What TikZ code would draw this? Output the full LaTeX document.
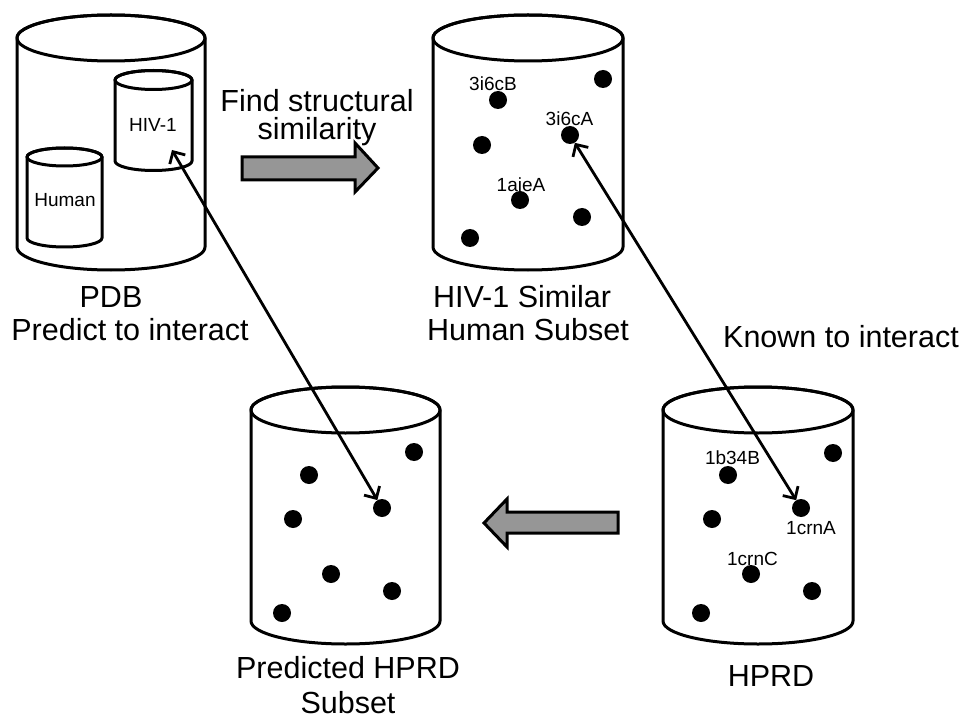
\documentclass[tikz,border=0pt]{standalone}
\usepackage{fontspec}
\setmainfont{Liberation Sans}
\usetikzlibrary{arrows.meta}
\definecolor{arrowgray}{RGB}{150,150,150}
\tikzset{
  cylline/.style={line width=3pt, line join=round},
  dotnode/.style={circle, fill=black, inner sep=0pt, minimum size=18pt},
  smalllabel/.style={font=\fontsize{19}{22}\selectfont, inner sep=0pt},
  biglabel/.style={font=\fontsize{30.5}{35}\selectfont, inner sep=0pt, anchor=base},
  blockarrow/.style={line width=3pt, fill=arrowgray, line join=miter},
  link/.style={line width=2.8pt, {Straight Barb[length=9pt,width=18pt]}-{Straight Barb[length=9pt,width=18pt]}},
}
% cx, ytop, ybot, rx, ry
\newcommand{\drum}[5]{%
  \filldraw[cylline, fill=white] ({#1-#4},#2) -- ({#1-#4},#3)
    arc[start angle=180, end angle=0, x radius=#4, y radius=#5]
    -- ({#1+#4},#2)
    arc[start angle=0, end angle=-180, x radius=#4, y radius=#5] -- cycle;
  \draw[cylline] (#1,#2) ellipse[x radius=#4, y radius=#5];
}
\begin{document}
\begin{tikzpicture}[x=1pt, y=-1pt]
\useasboundingbox (0,0) rectangle (968,719);

% ---------- PDB ----------
\drum{111}{38}{247}{94}{23}
\drum{153.5}{80}{161}{38.5}{9.5}
\drum{64.5}{157}{238}{37.5}{9}
\node[smalllabel] (hivlbl) at (153,125) {HIV-1};
\node[smalllabel] (humanlbl) at (65,200) {Human};
\coordinate (hivpt) at (172,150);
\node[biglabel] (pdb) at (111,307) {PDB};
\node[biglabel] (pdbsub) at (130,340) {Predict to interact};

% ---------- Find structural similarity ----------
\node[biglabel] (find1) at (317,112) {Find structural};
\node[biglabel] (find2) at (317,140) {similarity};
\draw[blockarrow] (242,157) -- (355,157) -- (355,143) -- (378,168)
  -- (355,192) -- (355,180) -- (242,180) -- cycle;

% ---------- HIV-1 similar human subset ----------
\drum{528}{38}{247}{95}{23}
\node[dotnode] (t1) at (603,79) {};
\node[dotnode] (t3i6cB) at (498,100) {};
\node[dotnode] (t3i6cA) at (570,135) {};
\node[dotnode] (t4) at (482,145) {};
\node[dotnode] (t1aieA) at (520,200) {};
\node[dotnode] (t6) at (582,217) {};
\node[dotnode] (t7) at (470,238) {};
\node[smalllabel] (l3i6cB) at (493,84) {3i6cB};
\node[smalllabel] (l3i6cA) at (569.5,119) {3i6cA};
\node[smalllabel] (l1aieA) at (521,184.5) {1aieA};
\node[biglabel] (sim1) at (522,307) {HIV-1 Similar};
\node[biglabel] (sim2) at (528,340) {Human Subset};

\node[biglabel] (known) at (841,347) {Known to interact};

% ---------- Predicted HPRD subset ----------
\drum{345.5}{410}{621}{94.5}{23}
\node[dotnode] (p1) at (414,452) {};
\node[dotnode] (p2) at (309,475) {};
\node[dotnode] (ptarget) at (382,508) {};
\node[dotnode] (p4) at (293,519) {};
\node[dotnode] (p5) at (331,574) {};
\node[dotnode] (p6) at (392,591) {};
\node[dotnode] (p7) at (282,613) {};
\node[biglabel] (pred1) at (348,678) {Predicted HPRD};
\node[biglabel] (pred2) at (348,713) {Subset};

% ---------- HPRD ----------
\drum{758}{410}{621}{95}{23}
\node[dotnode] (h1) at (833,453) {};
\node[dotnode] (h1b34B) at (728,475) {};
\node[dotnode] (h1crnA) at (801,508) {};
\node[dotnode] (h4) at (712,519) {};
\node[dotnode] (h1crnC) at (751,574) {};
\node[dotnode] (h6) at (812,591) {};
\node[dotnode] (h7) at (701,613) {};
\node[smalllabel] (l1b34B) at (732.5,458) {1b34B};
\node[smalllabel] (l1crnA) at (811,528) {1crnA};
\node[smalllabel] (l1crnC) at (752.5,559) {1crnC};
\node[biglabel] (hprd) at (771,686) {HPRD};

% ---------- lower block arrow ----------
\draw[blockarrow] (618,512) -- (507,512) -- (507,499) -- (484,523)
  -- (507,547) -- (507,533) -- (618,533) -- cycle;

% ---------- links ----------
\draw[link] (hivpt) -- (ptarget);
\draw[link] (t3i6cA) -- (h1crnA);
\end{tikzpicture}
\end{document}
